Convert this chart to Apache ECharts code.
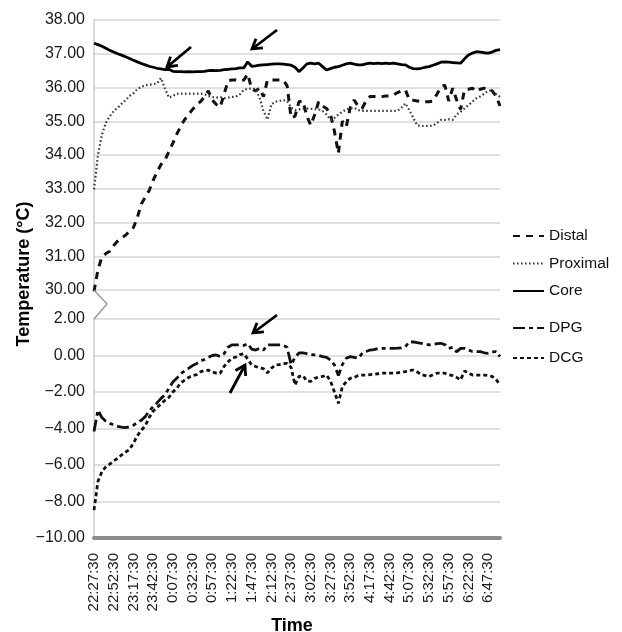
<!DOCTYPE html>
<html>
<head>
<meta charset="utf-8">
<script src="https://cdn.jsdelivr.net/npm/echarts@6/dist/echarts.min.js"></script>
<style>html,body{margin:0;padding:0;background:#fff}#c{width:622px;height:632px}</style>
</head>
<body>
<div id="c"></div>
<script>
var times = ['22:27:30','22:32:30','22:37:30','22:42:30','22:47:30','22:52:30','22:57:30','23:02:30','23:07:30','23:12:30',
'23:17:30','23:22:30','23:27:30','23:32:30','23:37:30','23:42:30','23:47:30','23:52:30','23:57:30','0:02:30',
'0:07:30','0:12:30','0:17:30','0:22:30','0:27:30','0:32:30','0:37:30','0:42:30','0:47:30','0:52:30',
'0:57:30','1:02:30','1:07:30','1:12:30','1:17:30','1:22:30','1:27:30','1:32:30','1:37:30','1:42:30',
'1:47:30','1:52:30','1:57:30','2:02:30','2:07:30','2:12:30','2:17:30','2:22:30','2:27:30','2:32:30',
'2:37:30','2:42:30','2:47:30','2:52:30','2:57:30','3:02:30','3:07:30','3:12:30','3:17:30','3:22:30',
'3:27:30','3:32:30','3:37:30','3:42:30','3:47:30','3:52:30','3:57:30','4:02:30','4:07:30','4:12:30',
'4:17:30','4:22:30','4:27:30','4:32:30','4:37:30','4:42:30','4:47:30','4:52:30','4:57:30','5:02:30',
'5:07:30','5:12:30','5:17:30','5:22:30','5:27:30','5:32:30','5:37:30','5:42:30','5:47:30','5:52:30',
'5:57:30','6:02:30','6:07:30','6:12:30','6:17:30','6:22:30','6:27:30','6:32:30','6:37:30','6:42:30',
'6:47:30','6:52:30','6:57:30','7:02:30'];

var distal = [29.95,30.6,30.98,31.08,31.15,31.32,31.45,31.55,31.62,31.75,
31.85,32.15,32.55,32.75,32.95,33.25,33.5,33.72,33.85,34.1,
34.35,34.62,34.85,35.05,35.2,35.35,35.48,35.58,35.72,35.9,
35.63,35.5,35.42,35.8,36.2,36.22,36.22,36.2,36.22,36.4,
35.95,35.9,35.98,35.73,36.22,36.22,36.22,36.22,36.22,36.05,
35.1,35.15,35.58,35.6,35.15,34.88,35.2,35.58,35.45,35.38,
35.2,34.7,34.05,35.0,34.84,35.4,35.63,35.45,35.38,35.6,
35.73,35.73,35.73,35.73,35.75,35.75,35.78,35.85,35.9,35.93,
35.63,35.62,35.6,35.58,35.58,35.58,35.6,35.8,36.02,36.07,
35.6,35.98,35.63,35.35,35.93,35.95,35.98,35.88,35.95,35.98,
35.98,35.9,35.75,35.45];

var proximal = [32.98,34.0,34.6,34.95,35.15,35.3,35.4,35.52,35.62,35.75,
35.83,35.95,36.02,36.07,36.08,36.1,36.12,36.28,35.97,35.7,
35.75,35.82,35.82,35.82,35.82,35.82,35.82,35.82,35.8,35.75,
35.72,35.7,35.72,35.68,35.7,35.72,35.73,35.8,35.93,35.96,
35.97,35.95,35.7,35.3,35.05,35.5,35.58,35.6,35.63,35.6,
35.4,35.33,35.35,35.37,35.38,35.37,35.36,35.35,35.3,35.2,
35.04,35.1,35.2,35.28,35.35,35.38,35.4,35.33,35.31,35.31,
35.31,35.31,35.31,35.31,35.31,35.31,35.31,35.31,35.4,35.53,
35.33,35.1,34.88,34.86,34.86,34.86,34.87,34.95,35.04,35.04,
35.06,35.04,35.2,35.28,35.38,35.48,35.58,35.68,35.73,35.82,
35.9,35.93,35.8,35.72];

var core = [37.31,37.27,37.22,37.16,37.1,37.05,37.0,36.96,36.91,36.86,
36.81,36.76,36.71,36.67,36.63,36.6,36.57,36.55,36.53,36.54,
36.48,36.47,36.47,36.46,36.47,36.46,36.47,36.47,36.48,36.5,
36.51,36.5,36.51,36.53,36.54,36.55,36.56,36.58,36.58,36.76,
36.63,36.64,36.66,36.67,36.68,36.69,36.7,36.7,36.69,36.68,
36.66,36.6,36.47,36.58,36.7,36.72,36.7,36.72,36.62,36.52,
36.56,36.6,36.62,36.66,36.7,36.72,36.69,36.67,36.67,36.7,
36.72,36.71,36.72,36.71,36.72,36.71,36.72,36.7,36.68,36.67,
36.6,36.56,36.55,36.57,36.6,36.62,36.66,36.7,36.75,36.76,
36.75,36.74,36.73,36.72,36.85,36.96,37.02,37.06,37.05,37.03,
37.02,37.05,37.1,37.12];

var dpg = [-4.17,-2.99,-3.4,-3.6,-3.72,-3.8,-3.88,-3.92,-3.95,-3.9,
-3.82,-3.68,-3.55,-3.35,-3.05,-2.8,-2.6,-2.35,-2.15,-1.8,
-1.45,-1.25,-1.0,-0.85,-0.7,-0.55,-0.45,-0.3,-0.22,-0.1,
0.0,0.03,-0.05,0.1,0.45,0.58,0.58,0.58,0.55,0.65,
0.35,0.3,0.4,0.3,0.58,0.58,0.58,0.58,0.55,0.45,
-0.5,-0.1,0.14,0.14,0.1,0.05,0.03,0.0,-0.06,-0.1,
-0.25,-0.52,-1.1,-0.5,-0.15,-0.06,-0.1,-0.15,0.1,0.22,
0.3,0.32,0.38,0.39,0.39,0.39,0.39,0.4,0.42,0.48,
0.76,0.74,0.7,0.67,0.62,0.58,0.6,0.65,0.67,0.6,
0.39,0.45,0.2,0.39,0.39,0.3,0.22,0.21,0.21,0.15,
0.12,0.2,0.21,-0.06];

var dcg = [-8.47,-6.9,-6.37,-6.1,-5.95,-5.78,-5.63,-5.45,-5.3,-5.15,
-4.8,-4.4,-4.1,-3.85,-3.4,-3.05,-2.85,-2.65,-2.45,-2.3,
-2.0,-1.8,-1.5,-1.35,-1.2,-1.1,-1.05,-0.9,-0.82,-0.8,
-0.9,-0.97,-0.98,-0.6,-0.35,-0.15,-0.08,0.05,0.1,-0.2,
-0.52,-0.6,-0.68,-0.72,-0.95,-0.7,-0.52,-0.5,-0.45,-0.43,
-0.65,-1.62,-1.15,-1.1,-1.4,-1.42,-1.25,-1.18,-1.15,-1.07,
-1.4,-2.0,-2.62,-1.7,-1.44,-1.25,-1.2,-1.1,-1.07,-1.07,
-1.05,-1.03,-1.0,-0.97,-0.97,-0.97,-0.97,-0.95,-0.92,-0.88,
-0.82,-0.8,-0.9,-1.05,-1.1,-1.16,-1.05,-0.97,-0.97,-0.97,
-1.05,-1.1,-1.2,-1.34,-0.85,-0.95,-1.07,-1.07,-1.07,-1.07,
-1.1,-1.15,-1.3,-1.62];

var upperTicks = {min: 30, max: 38, interval: 1};
var lowerTicks = {min: -10, max: 2, interval: 2};

var FONT = 'Liberation Sans, Arial, sans-serif';
var G_LEFT = 94, G_RIGHT = 122, TOP1 = 20, H1 = 270, TOP2 = 319, H2 = 219;

function fmt(v) {
  var s = Math.abs(v).toFixed(2);
  return v < 0 ? '\u2212' + s : s;
}

var chart = echarts.init(document.getElementById('c'), null, {renderer: 'canvas'});

var yCommon = function (idx, t) {
  return {
    type: 'value', gridIndex: idx, min: t.min, max: t.max, interval: t.interval,
    axisLine: {show: true, lineStyle: {color: '#cdcdcd', width: 1.5}},
    axisTick: {show: false},
    splitLine: {show: true, lineStyle: {color: '#d6d6d6', width: 1.5}},
    axisLabel: {formatter: fmt, fontSize: 16, color: '#1a1a1a', fontFamily: FONT, margin: 9}
  };
};

var lineBase = function (name, data, xi, style) {
  return {
    name: name, type: 'line', xAxisIndex: xi, yAxisIndex: xi, data: data,
    symbol: 'none', showSymbol: false, smooth: false,
    lineStyle: style, itemStyle: {color: style.color},
    emphasis: {disabled: true}, z: 3
  };
};

function arrow(x1, y1, x2, y2) {
  var ang = Math.atan2(y2 - y1, x2 - x1);
  var L = 11, a = 0.55;
  var p1 = [x2 - L * Math.cos(ang - a), y2 - L * Math.sin(ang - a)];
  var p2 = [x2 - L * Math.cos(ang + a), y2 - L * Math.sin(ang + a)];
  return [
    {type: 'line', shape: {x1: x1, y1: y1, x2: x2, y2: y2}, style: {stroke: '#000', lineWidth: 2.8}, z: 10},
    {type: 'polyline', shape: {points: [p1, [x2, y2], p2]}, style: {stroke: '#000', lineWidth: 2.8, fill: null, lineJoin: 'miter'}, z: 10}
  ];
}

var graphics = [
  {type: 'text', x: 24, y: 274, rotation: Math.PI / 2,
   style: {text: 'Temperature (\u00b0C)', font: 'bold 18px ' + FONT, fill: '#000', align: 'center', verticalAlign: 'middle', textAlign: 'center', textVerticalAlign: 'middle'}, z: 10},
  {type: 'text', x: 292, y: 626,
   style: {text: 'Time', font: 'bold 18px ' + FONT, fill: '#000', align: 'center', verticalAlign: 'middle', textAlign: 'center', textVerticalAlign: 'middle'}, z: 10},
  {type: 'polyline', shape: {points: [[G_LEFT, TOP1 + H1], [G_LEFT + 13, TOP1 + H1 + 14], [G_LEFT, TOP2]]}, style: {stroke: '#9a9a9a', lineWidth: 1.5, fill: null}, z: 10}
].concat(arrow(191, 47, 167, 67), arrow(277, 30, 252, 49), arrow(277, 315, 253, 333), arrow(230, 393, 245, 365));

var legendCommon = {
  orient: 'vertical', left: 512, itemWidth: 31, itemHeight: 14, padding: 0, selectedMode: false,
  itemStyle: {opacity: 0, borderWidth: 0},
  textStyle: {fontSize: 15.5, color: '#111', fontFamily: FONT}
};

chart.setOption({
  animation: false,
  backgroundColor: '#fff',
  textStyle: {fontFamily: FONT},
  grid: [
    {left: G_LEFT, right: G_RIGHT, top: TOP1, height: H1, containLabel: false},
    {left: G_LEFT, right: G_RIGHT, top: TOP2, height: H2, containLabel: false}
  ],
  xAxis: [
    {type: 'category', gridIndex: 0, data: times, boundaryGap: false,
     axisLine: {show: false}, axisTick: {show: false}, axisLabel: {show: false}, splitLine: {show: false}},
    {type: 'category', gridIndex: 1, data: times, boundaryGap: false,
     axisLine: {show: true, onZero: false, lineStyle: {color: '#8c8c8c', width: 4}},
     axisTick: {show: false}, splitLine: {show: false},
     axisLabel: {interval: 4, rotate: 90, fontSize: 15, color: '#1a1a1a', fontFamily: FONT, margin: 15}}
  ],
  yAxis: [yCommon(0, upperTicks), yCommon(1, lowerTicks)],
  legend: [
    Object.assign({data: ['Distal', 'Proximal', 'Core'], top: 228, itemGap: 11.5}, legendCommon),
    Object.assign({data: ['DPG', 'DCG'], top: 320, itemGap: 14}, legendCommon)
  ],
  series: [
    lineBase('Distal', distal, 0, {color: '#111', width: 3, type: [7, 6]}),
    lineBase('Proximal', proximal, 0, {color: '#3a3a3a', width: 2.2, type: [1.6, 2.4]}),
    lineBase('Core', core, 0, {color: '#000', width: 2.8, type: 'solid'}),
    lineBase('DPG', dpg, 1, {color: '#111', width: 2.8, type: [12, 4, 4, 4]}),
    lineBase('DCG', dcg, 1, {color: '#111', width: 2.8, type: [4, 3]})
  ],
  graphic: graphics
});
</script>
</body>
</html>
